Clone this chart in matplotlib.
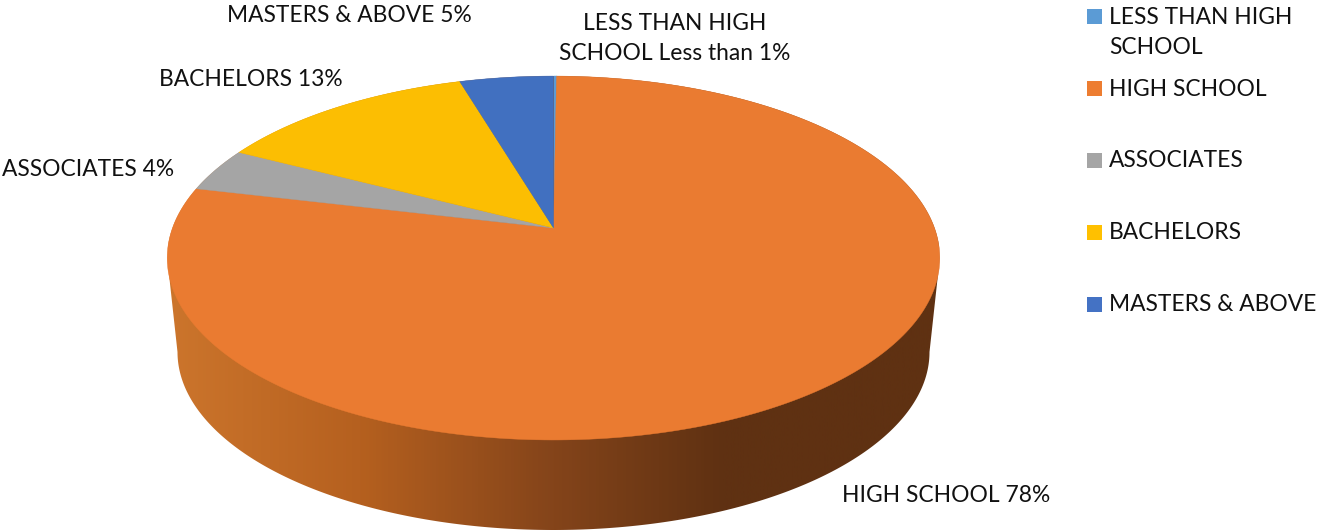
import numpy as np
import matplotlib
matplotlib.use('Agg')
import matplotlib.pyplot as plt
from matplotlib.colors import LinearSegmentedColormap
from matplotlib.patches import Polygon, Rectangle

plt.rcParams['font.family'] = ['Lato', 'DejaVu Sans']

# data
categories = ['LESS THAN HIGH\nSCHOOL', 'HIGH SCHOOL', 'ASSOCIATES', 'BACHELORS', 'MASTERS & ABOVE']
shares = [0.15, 78.55, 3.9, 12.8, 4.6]
share_labels = ['Less than 1%', '78%', '4%', '13%', '5%']
colors = ['#5B9BD5', '#ED7D31', '#A5A5A5', '#FFC000', '#4472C4']
top_colors = ['#5B9BD5', '#EA7B31', '#A5A5A5', '#FCBE02', '#4170C0']

# pie geometry in pixels
cx, apex_y = 553.5, 228
R, S, k = 381, 177, 0.165


def rim(theta):
    # perspective projection of the pie's top circle, theta clockwise from 12 o'clock
    d = 1 + k * np.cos(theta)
    return cx + R * np.sin(theta) / d, apex_y - S * np.cos(theta) / d


fig = plt.figure(figsize=(13.19, 5.31), dpi=100)
ax = fig.add_axes([0, 0, 1, 1])
ax.set_xlim(0, 1319)
ax.set_ylim(531, 0)
ax.axis('off')

# side wall with the horizontal shading
t = np.linspace(0, 2 * np.pi, 721)
tx, ty = rim(t)
back_x, back_y = tx[ty < 268], ty[ty < 268]
order = np.argsort(back_x)
u = np.linspace(0, np.pi, 361)
wall = np.r_[np.c_[back_x[order], back_y[order]],
             np.c_[cx + 376 * np.cos(u), 352 + 178 * np.sin(u)]]
side_cmap = LinearSegmentedColormap.from_list(
    'side', [(0, '#CC752C'), (0.25, '#B5601F'), (0.5, '#84441A'), (0.72, '#5F3112'), (1, '#5F3112')])
gradient = np.linspace(0, 1, 800).reshape(1, -1)
img = ax.imshow(gradient, extent=(167, 940, 531, 76), cmap=side_cmap, aspect='auto', zorder=1)
patch = Polygon(wall, closed=True, transform=ax.transData, fc='none', ec='none')
ax.add_patch(patch)
img.set_clip_path(patch)
ax.set_xlim(0, 1319)
ax.set_ylim(531, 0)

# top face, slices go clockwise from 12 o'clock
edges = np.r_[0, np.cumsum(shares)] / np.sum(shares) * 2 * np.pi
for i in range(len(shares)):
    a = np.linspace(edges[i], edges[i + 1], 300)
    x, y = rim(a)
    ax.add_patch(Polygon(np.c_[np.r_[cx, x], np.r_[apex_y, y]], closed=True,
                         fc=top_colors[i], ec=top_colors[i], lw=0.3, zorder=2))

# data labels
fs = 16.4
txt = dict(fontsize=fs, color='#111111', va='center', ha='center', zorder=3)
ax.text(675, 38.5, categories[0] + ' ' + share_labels[0], linespacing=1.55, **txt)
ax.text(946, 496, categories[1] + ' ' + share_labels[1], **txt)
ax.text(88, 169, categories[2] + ' ' + share_labels[2], **txt)
ax.text(251, 79, categories[3] + ' ' + share_labels[3], **txt)
ax.text(349, 16, categories[4] + ' ' + share_labels[4], **txt)

# legend
legend_y = [16.5, 88.5, 160, 232, 304]
for name, col, ly in zip(categories, colors, legend_y):
    ax.add_patch(Rectangle((1087, ly - 7.5), 15, 15, fc=col, ec='none', zorder=3))
    # the two-line entry hangs below its swatch
    text_y = ly + 16 if '\n' in name else ly + 0.5
    ax.text(1109, text_y, name, fontsize=fs, color='#111111', va='center', ha='left',
            linespacing=1.55)

fig.savefig('out.png', dpi=100)
